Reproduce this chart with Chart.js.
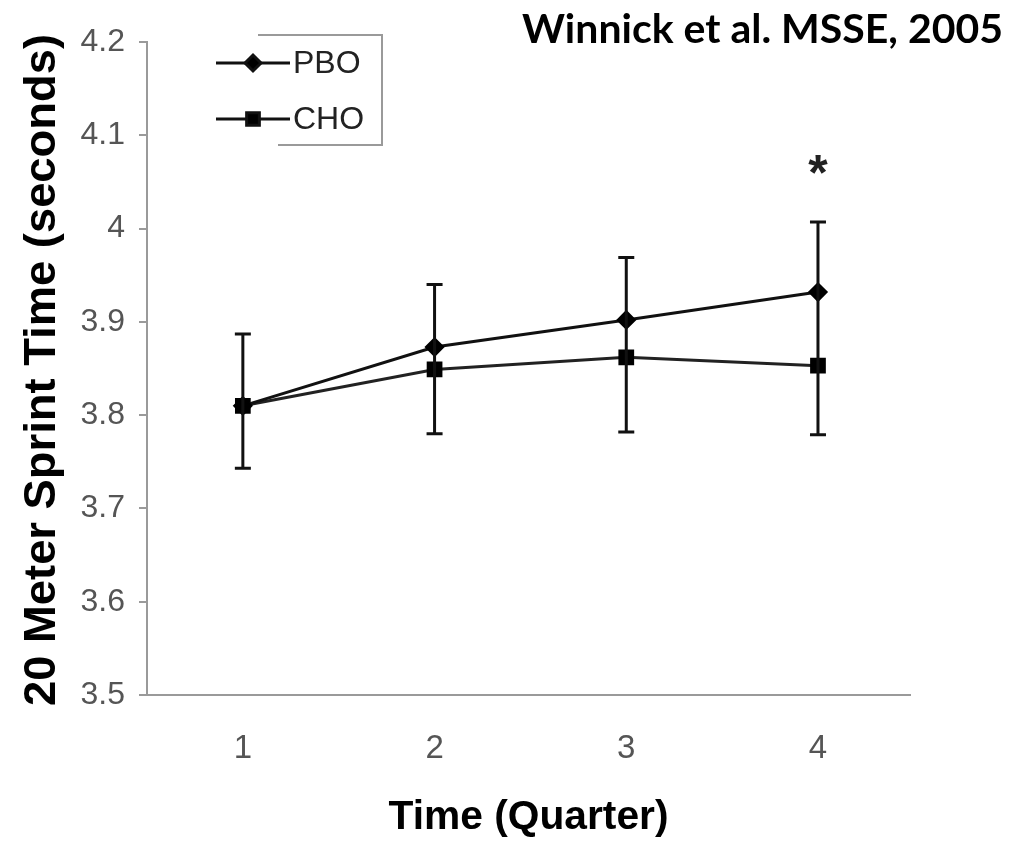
<!DOCTYPE html>
<html>
<head>
<meta charset="utf-8">
<script src="https://cdn.jsdelivr.net/npm/chart.js@4"></script>
<style>
  html, body { margin: 0; padding: 0; background: #fff; }
  #wrap { width: 1031px; height: 846px; position: relative; }
</style>
</head>
<body>
<div id="wrap"><canvas id="grafico"></canvas></div>
<script>
// dados
const quartos = [1, 2, 3, 4];
const pbo = [3.81, 3.873, 3.902, 3.932];
const cho = [3.81, 3.849, 3.862, 3.853];
// barras de erro (PBO para cima, CHO para baixo)
const erroSup = [3.887, 3.940, 3.969, 4.007];
const erroInf = [3.743, 3.780, 3.782, 3.779];
const yTicks = [3.5, 3.6, 3.7, 3.8, 3.9, 4, 4.1, 4.2];
const asterisco = { x: 4, y: 4.041 };

const cinza = '#9a9a9a';

// escreve texto ajustando a largura
function textoLargura(ctx, txt, x, y, largura) {
    const w = ctx.measureText(txt).width;
    ctx.save();
    ctx.translate(x, y);
    ctx.scale(largura / w, 1);
    ctx.fillText(txt, 0, 0);
    ctx.restore();
}

const plugDesenho = {
    id: 'extras',
    afterDatasetsDraw(chart) {
        const { ctx, scales: { x, y } } = chart;
        ctx.save();
        // barras de erro
        ctx.strokeStyle = '#111';
        ctx.lineWidth = 3;
        quartos.forEach((q, i) => {
            const px = x.getPixelForValue(q);
            const yTop = y.getPixelForValue(erroSup[i]);
            const yBot = y.getPixelForValue(erroInf[i]);
            ctx.beginPath();
            ctx.moveTo(px, yTop); ctx.lineTo(px, yBot);
            ctx.moveTo(px - 8, yTop); ctx.lineTo(px + 8, yTop);
            ctx.moveTo(px - 8, yBot); ctx.lineTo(px + 8, yBot);
            ctx.stroke();
        });
        // asterisco
        ctx.fillStyle = '#222';
        ctx.font = 'bold 50px "Liberation Sans"';
        ctx.textAlign = 'center';
        ctx.textBaseline = 'alphabetic';
        ctx.fillText('*', x.getPixelForValue(asterisco.x), y.getPixelForValue(asterisco.y));
        ctx.restore();
    },
    afterDraw(chart) {
        const { ctx, chartArea } = chart;
        ctx.save();
        ctx.fillStyle = '#000';
        ctx.textBaseline = 'alphabetic';

        // título
        ctx.font = 'bold 40px Lato';
        ctx.textAlign = 'right';
        textoLargura(ctx, 'Winnick et al. MSSE, 2005', 1003, 43, 481);

        // título eixo Y
        ctx.save();
        ctx.translate(55, 370);
        ctx.rotate(-Math.PI / 2);
        ctx.font = 'bold 44px "Liberation Sans"';
        ctx.textAlign = 'center';
        textoLargura(ctx, '20 Meter Sprint Time (seconds)', 0, 0, 672);
        ctx.restore();

        // título eixo X
        ctx.font = 'bold 40px "Liberation Sans"';
        ctx.textAlign = 'center';
        textoLargura(ctx, 'Time (Quarter)', (chartArea.left + chartArea.right) / 2, 829, 280);

        // legenda
        ctx.strokeStyle = cinza;
        ctx.lineWidth = 2;
        ctx.beginPath();
        ctx.moveTo(258, 35); ctx.lineTo(382, 35); ctx.lineTo(382, 145); ctx.lineTo(278, 145);
        ctx.stroke();
        const itens = [
            { nome: 'PBO', yy: 63, ds: chart.data.datasets[0] },
            { nome: 'CHO', yy: 119, ds: chart.data.datasets[1] }
        ];
        itens.forEach(it => {
            ctx.strokeStyle = '#111';
            ctx.lineWidth = 3;
            ctx.beginPath();
            ctx.moveTo(216, it.yy); ctx.lineTo(290, it.yy);
            ctx.stroke();
            ctx.fillStyle = '#000';
            Chart.helpers.drawPoint(ctx, {
                pointStyle: it.ds.pointStyle, radius: it.ds.pointRadius, borderWidth: 1
            }, 253, it.yy);
            ctx.fillStyle = '#222';
            ctx.font = '32px "Liberation Sans"';
            ctx.textAlign = 'left';
            ctx.textBaseline = 'middle';
            ctx.fillText(it.nome, 293, it.yy + 1);
        });
        ctx.restore();
    }
};

Chart.defaults.font.family = '"Liberation Sans", Arial, sans-serif';

new Chart(document.getElementById('grafico'), {
    type: 'line',
    data: {
        datasets: [
            {
                label: 'PBO',
                data: quartos.map((q, i) => ({ x: q, y: pbo[i] })),
                borderColor: '#111', backgroundColor: '#000',
                borderWidth: 3, pointStyle: 'rectRot', pointRadius: 8,
                pointBorderColor: '#000', pointBackgroundColor: '#000'
            },
            {
                label: 'CHO',
                data: quartos.map((q, i) => ({ x: q, y: cho[i] })),
                borderColor: '#222', backgroundColor: '#000',
                borderWidth: 3, pointStyle: 'rect', pointRadius: 9,
                pointBorderColor: '#000', pointBackgroundColor: '#000'
            }
        ]
    },
    options: {
        responsive: true,
        maintainAspectRatio: false,
        animation: false,
        layout: { padding: { top: 42, right: 121, left: 0, bottom: 0 } },
        plugins: { legend: { display: false }, tooltip: { enabled: false } },
        scales: {
            x: {
                type: 'linear', min: 0.5, max: 4.48,
                afterBuildTicks: s => { s.ticks = quartos.map(v => ({ value: v })); },
                afterFit: s => { s.height = 151; },
                grid: { drawOnChartArea: false, drawTicks: false },
                border: { color: cinza, width: 2 },
                ticks: { color: '#555', font: { size: 33 }, padding: 34 }
            },
            y: {
                min: 3.5, max: 4.2,
                afterBuildTicks: s => { s.ticks = yTicks.map(v => ({ value: v })); },
                afterFit: s => { s.width = 147; },
                grid: { drawOnChartArea: false, drawTicks: true, tickLength: 8, color: cinza, lineWidth: 2 },
                border: { color: cinza, width: 2 },
                ticks: { color: '#555', font: { size: 32 }, padding: 14,
                    callback: v => String(Math.round(v * 10) / 10) }
            }
        }
    },
    plugins: [plugDesenho]
});
</script>
</body>
</html>
